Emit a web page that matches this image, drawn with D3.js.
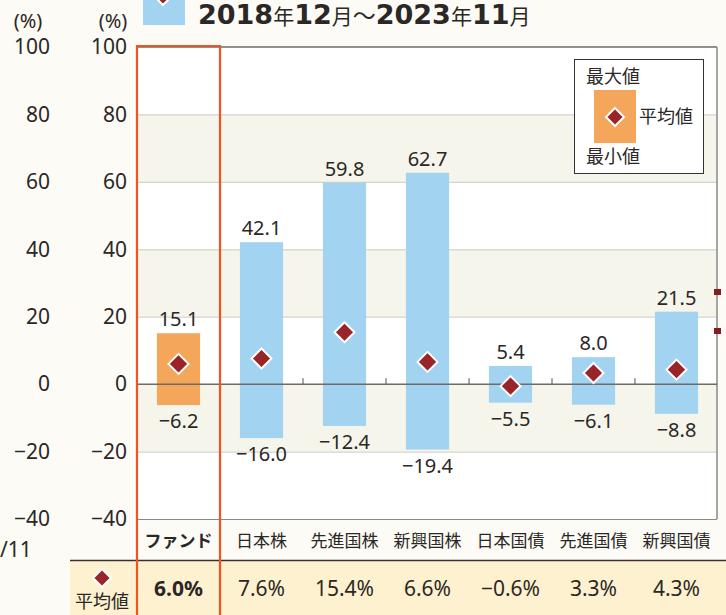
<!DOCTYPE html>
<html><head><meta charset="utf-8">
<script src="https://cdn.jsdelivr.net/npm/d3@7"></script>
<style>
body{margin:0;background:#fcfbf5;}
svg{display:block;font-family:"Noto Sans","Noto Sans CJK JP",sans-serif;}
</style></head>
<body>
<svg id="c" width="726" height="615"></svg>
<script>
const categories = ["ファンド","日本株","先進国株","新興国株","日本国債","先進国債","新興国債"];
const maxValues = [15.1, 42.1, 59.8, 62.7, 5.4, 8.0, 21.5];
const minValues = [-6.2, -16.0, -12.4, -19.4, -5.5, -6.1, -8.8];
const avgValues = [6.0, 7.6, 15.4, 6.6, -0.6, 3.3, 4.3];
const yTicks = [-40, -20, 0, 20, 40, 60, 80, 100];
const titleParts = ["2018", "年", "12", "月", "～", "2023", "年", "11", "月"];

const svg = d3.select("#c");
const fmt = v => (v < 0 ? "\u2212" : "") + Math.abs(v).toFixed(1);
const tickFmt = v => (v < 0 ? "\u2212" : "") + Math.abs(v);

const y = d3.scaleLinear().domain([-40, 100]).range([519, 47]);
const x = d3.scaleBand().domain(categories).range([137, 718]);
const bw = x.bandwidth();
const barW = bw * 0.52;
const cx = c => x(c) + bw / 2;

// bottom rows
svg.append("rect").attr("x", 70).attr("y", 560).attr("width", 656).attr("height", 55).attr("fill", "#fef1cf");
svg.append("line").attr("x1", 70).attr("x2", 726).attr("y1", 560.5).attr("y2", 560.5).attr("stroke", "#3a3030").attr("stroke-width", 1.5);

// plot background
svg.append("rect").attr("x", 137).attr("y", y(100)).attr("width", 580).attr("height", y(-40) - y(100)).attr("fill", "#fff");
const bands = [[60, 80], [20, 40], [-20, 0]];
svg.selectAll(".band").data(bands).enter().append("rect")
  .attr("x", 137).attr("width", 580)
  .attr("y", d => y(d[1])).attr("height", d => y(d[0]) - y(d[1]))
  .attr("fill", "#f6f5eb");
svg.selectAll(".grid").data(yTicks.filter(v => v !== 0 && v !== 100 && v !== -40)).enter().append("line")
  .attr("x1", 137).attr("x2", 717).attr("y1", d => y(d) + 0.5).attr("y2", d => y(d) + 0.5)
  .attr("stroke", "#d3d3cf").attr("stroke-width", 1.2);
// frame
svg.append("line").attr("x1", 137).attr("x2", 717).attr("y1", y(100)).attr("y2", y(100)).attr("stroke", "#222").attr("stroke-width", 1.2);
svg.append("line").attr("x1", 137).attr("x2", 717).attr("y1", y(-40) + 0.5).attr("y2", y(-40) + 0.5).attr("stroke", "#8a8a86").attr("stroke-width", 1.2);
svg.append("line").attr("x1", 717).attr("x2", 717).attr("y1", y(100)).attr("y2", y(-40)).attr("stroke", "#888").attr("stroke-width", 1.5);

// bars
svg.selectAll(".bar").data(categories).enter().append("rect")
  .attr("x", c => cx(c) - barW / 2).attr("width", barW)
  .attr("y", (c, i) => y(maxValues[i]))
  .attr("height", (c, i) => y(minValues[i]) - y(maxValues[i]))
  .attr("fill", (c, i) => i === 0 ? "#f4a65a" : "#a2d3f1");

// zero line + ticks
svg.append("line").attr("x1", 137).attr("x2", 717).attr("y1", y(0)).attr("y2", y(0)).attr("stroke", "#6e6a66").attr("stroke-width", 1.5);
svg.selectAll(".zt").data(categories.slice(1)).enter().append("line")
  .attr("x1", c => x(c)).attr("x2", c => x(c)).attr("y1", y(0) - 6).attr("y2", y(0))
  .attr("stroke", "#555").attr("stroke-width", 1);

// diamonds
const diamond = (g, px, py, s) => g.append("path")
  .attr("d", `M${px},${py - s}L${px + s},${py}L${px},${py + s}L${px - s},${py}Z`)
  .attr("fill", "#992528").attr("stroke", "#fff").attr("stroke-width", 2);
categories.forEach((c, i) => diamond(svg, cx(c), y(avgValues[i]), 10));

// value labels
svg.selectAll(".mx").data(categories).enter().append("text")
  .attr("x", cx).attr("y", (c, i) => y(maxValues[i]) - 7)
  .attr("text-anchor", "middle").attr("font-size", 20).attr("fill", "#2b2726")
  .text((c, i) => fmt(maxValues[i]));
svg.selectAll(".mn").data(categories).enter().append("text")
  .attr("x", cx).attr("y", (c, i) => y(minValues[i]) + 23)
  .attr("text-anchor", "middle").attr("font-size", 20).attr("fill", "#2b2726")
  .text((c, i) => fmt(minValues[i]));

// axes
const axR = svg.append("g").attr("transform", "translate(137,0)")
  .call(d3.axisLeft(y).tickValues(yTicks).tickSize(0).tickPadding(10).tickFormat(tickFmt));
const axL = svg.append("g").attr("transform", "translate(60,0)")
  .call(d3.axisLeft(y).tickValues(yTicks).tickSize(0).tickPadding(10).tickFormat(tickFmt));
[axR, axL].forEach(a => {
  a.select(".domain").remove();
  a.selectAll("text").attr("font-size", 21).attr("fill", "#2b2726").attr("font-family", "Noto Sans");
});
svg.append("text").attr("x", 113).attr("y", 28).attr("text-anchor", "middle").attr("font-size", 20).attr("fill", "#2b2726").text("(%)");
svg.append("text").attr("x", 28).attr("y", 28).attr("text-anchor", "middle").attr("font-size", 20).attr("fill", "#2b2726").text("(%)");
svg.append("text").attr("x", 0).attr("y", 557).attr("font-size", 21).attr("fill", "#2b2726").text("/11");

// category labels
svg.selectAll(".cat").data(categories).enter().append("text")
  .attr("x", cx).attr("y", 547).attr("text-anchor", "middle")
  .attr("font-size", 17).attr("fill", "#2b2726")
  .attr("font-weight", (c, i) => i === 0 ? "bold" : "normal")
  .text(c => c);

// average row
svg.selectAll(".avg").data(categories).enter().append("text")
  .attr("x", cx).attr("y", 596).attr("text-anchor", "middle")
  .attr("font-size", 21).attr("fill", "#2b2726")
  .attr("font-weight", (c, i) => i === 0 ? "bold" : "normal")
  .text((c, i) => fmt(avgValues[i]) + "%");
diamond(svg, 102, 578, 9);
svg.append("text").attr("x", 102).attr("y", 608).attr("text-anchor", "middle").attr("font-size", 18).attr("fill", "#2b2726").text("平均値");

// red highlight box
svg.append("path").attr("d", `M${x(categories[0])},615V46H${x(categories[0]) + bw}V615`)
  .attr("fill", "none").attr("stroke", "#ef5523").attr("stroke-width", 2.2);

// legend box
const lg = svg.append("g");
lg.append("rect").attr("x", 574.5).attr("y", 59.5).attr("width", 129).attr("height", 114).attr("fill", "#fff").attr("stroke", "#333").attr("stroke-width", 1);
lg.append("rect").attr("x", 594).attr("y", 90).attr("width", 42).attr("height", 53).attr("fill", "#f4a65a");
diamond(lg, 615, 117, 9);
lg.append("text").attr("x", 586).attr("y", 83).attr("font-size", 18).attr("fill", "#2b2726").text("最大値");
lg.append("text").attr("x", 639).attr("y", 123).attr("font-size", 18).attr("fill", "#2b2726").text("平均値");
lg.append("text").attr("x", 586).attr("y", 163).attr("font-size", 18).attr("fill", "#2b2726").text("最小値");

// top legend swatch (cut)
svg.append("rect").attr("x", 143).attr("y", 0).attr("width", 42).attr("height", 25).attr("fill", "#a2d3f1");
diamond(svg, 163, -3, 8);

// title
const t = svg.append("text").attr("x", 198).attr("y", 24).attr("fill", "#2b2726").attr("font-weight", "bold");
titleParts.forEach(s => {
  const isNum = /^[0-9]+$/.test(s);
  t.append("tspan")
    .attr("font-family", isNum ? "DejaVu Sans" : "Noto Sans CJK JP")
    .attr("font-size", isNum ? 27 : (s === "～" ? 23 : 21))
    .attr("font-weight", isNum ? "bold" : "normal")
    .text(s);
});

// cut markers at right edge
svg.selectAll(".cm").data([289, 328]).enter().append("rect")
  .attr("x", 714).attr("y", d => d).attr("width", 7).attr("height", 6).attr("fill", "#8b1a1f");
</script>
</body></html>
